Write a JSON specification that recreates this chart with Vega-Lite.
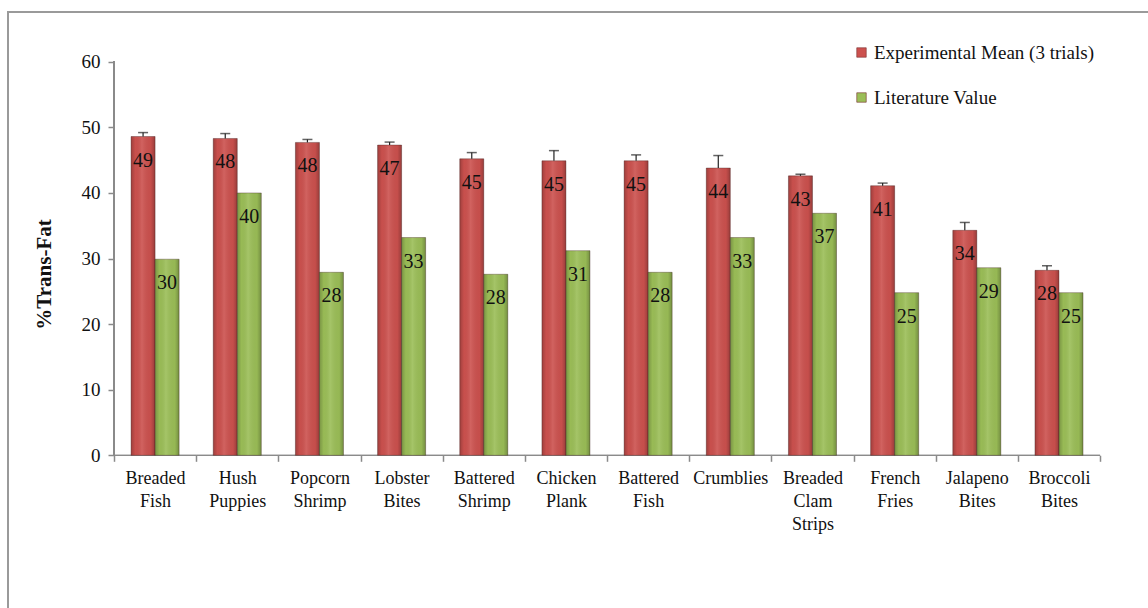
{
  "$schema": "https://vega.github.io/schema/vega-lite/v6.json",
  "width": 1145,
  "height": 600,
  "autosize": {"type": "none"},
  "padding": {"left": 8, "top": 12, "right": 0, "bottom": 0},
  "background": "white",
  "config": {
    "view": {"stroke": "#9a9a9a", "strokeWidth": 2},
    "font": "Liberation Serif, Times New Roman, DejaVu Serif, serif"
  },
  "data": {
    "values": [
      {"food": "Breaded Fish", "series": "Experimental Mean (3 trials)", "value": 48.6, "err": 0.6},
      {"food": "Breaded Fish", "series": "Literature Value", "value": 29.9},
      {"food": "Hush Puppies", "series": "Experimental Mean (3 trials)", "value": 48.3, "err": 0.75},
      {"food": "Hush Puppies", "series": "Literature Value", "value": 40.0},
      {"food": "Popcorn Shrimp", "series": "Experimental Mean (3 trials)", "value": 47.7, "err": 0.45},
      {"food": "Popcorn Shrimp", "series": "Literature Value", "value": 27.9},
      {"food": "Lobster Bites", "series": "Experimental Mean (3 trials)", "value": 47.3, "err": 0.45},
      {"food": "Lobster Bites", "series": "Literature Value", "value": 33.2},
      {"food": "Battered Shrimp", "series": "Experimental Mean (3 trials)", "value": 45.2, "err": 0.95},
      {"food": "Battered Shrimp", "series": "Literature Value", "value": 27.6},
      {"food": "Chicken Plank", "series": "Experimental Mean (3 trials)", "value": 44.9, "err": 1.55},
      {"food": "Chicken Plank", "series": "Literature Value", "value": 31.2},
      {"food": "Battered Fish", "series": "Experimental Mean (3 trials)", "value": 44.9, "err": 0.9},
      {"food": "Battered Fish", "series": "Literature Value", "value": 27.9},
      {"food": "Crumblies", "series": "Experimental Mean (3 trials)", "value": 43.8, "err": 1.9},
      {"food": "Crumblies", "series": "Literature Value", "value": 33.2},
      {"food": "Breaded Clam Strips", "series": "Experimental Mean (3 trials)", "value": 42.6, "err": 0.25},
      {"food": "Breaded Clam Strips", "series": "Literature Value", "value": 36.9},
      {"food": "French Fries", "series": "Experimental Mean (3 trials)", "value": 41.1, "err": 0.4},
      {"food": "French Fries", "series": "Literature Value", "value": 24.8},
      {"food": "Jalapeno Bites", "series": "Experimental Mean (3 trials)", "value": 34.3, "err": 1.2},
      {"food": "Jalapeno Bites", "series": "Literature Value", "value": 28.6},
      {"food": "Broccoli Bites", "series": "Experimental Mean (3 trials)", "value": 28.2, "err": 0.7},
      {"food": "Broccoli Bites", "series": "Literature Value", "value": 24.8}
    ]
  },
  "encoding": {
    "x": {
      "field": "food",
      "type": "nominal",
      "sort": null,
      "scale": {"paddingInner": 0, "paddingOuter": 0.967, "align": 0.667},
      "axis": {
        "title": null,
        "offset": -156.7,
        "domain": false,
        "labelAngle": 0,
        "labelExpr": "split(datum.label, ' ')",
        "labelFont": "Liberation Serif, Times New Roman, serif",
        "labelFontSize": 18,
        "labelLineHeight": 23,
        "labelColor": "#111111",
        "labelPadding": 8,
        "labelBaseline": "top",
        "tickBand": "extent",
        "tickSize": 6,
        "tickColor": "#8a8a8a",
        "tickWidth": 1.5
      }
    },
    "y": {
      "field": "value",
      "type": "quantitative",
      "scale": {"domain": [-23.88, 67.58], "nice": false, "zero": false},
      "axis": {
        "title": "%Trans-Fat",
        "offset": -106,
        "domain": false,
        "titleFont": "Liberation Serif, Times New Roman, serif",
        "titleFontSize": 21,
        "titleFontWeight": "bold",
        "titleColor": "#111111",
        "titleX": -70,
        "titleY": 262,
        "titleBaseline": "middle",
        "titleAlign": "center",
        "titleAngle": -90,
        "values": [0, 10, 20, 30, 40, 50, 60],
        "grid": false,
        "labelFont": "Liberation Serif, Times New Roman, serif",
        "labelFontSize": 19,
        "labelColor": "#111111",
        "labelPadding": 8,
        "tickSize": 6,
        "tickColor": "#8a8a8a",
        "tickWidth": 1.5
      }
    }
  },
  "layer": [
    {
      "mark": {"type": "bar", "stroke": "#8a8a8a", "strokeWidth": 0.75, "fill": "#8a8a8a"},
      "encoding": {
        "y": {"datum": 0},
        "y2": {"datum": 0}
      }
    },
    {
      "mark": {"type": "rule", "color": "#8a8a8a", "strokeWidth": 1.5},
      "encoding": {
        "x": {"datum": "Breaded Fish", "type": "nominal", "bandPosition": 0},
        "y": {"datum": 0},
        "y2": {"datum": 60}
      }
    },
    {
      "mark": {"type": "bar", "stroke": "rgba(60,30,30,0.35)", "strokeWidth": 1},
      "encoding": {
        "xOffset": {
          "field": "series",
          "type": "nominal",
          "scale": {"domain": ["Experimental Mean (3 trials)", "Literature Value"], "paddingInner": 0, "paddingOuter": 0.71}
        },
        "y2": {"datum": 0},
        "color": {
          "field": "series",
          "type": "nominal",
          "scale": {"domain": ["Experimental Mean (3 trials)", "Literature Value"], "range": ["#cc514e", "#9bbe57"]},
          "legend": {
            "title": null,
            "orient": "none",
            "legendX": 844,
            "legendY": 31,
            "padding": 0,
            "symbolType": "square",
            "symbolSize": 90,
            "symbolStrokeColor": "#7a3030",
            "symbolStrokeWidth": 0.6,
            "labelFont": "Liberation Serif, Times New Roman, serif",
            "labelFontSize": 19,
            "labelColor": "#111111",
            "labelOffset": 3,
            "rowPadding": 25,
            "labelLimit": 400
          }
        }
      }
    },
    {
      "mark": {
        "type": "bar",
        "fill": {
          "gradient": "linear",
          "x1": 0, "y1": 0, "x2": 1, "y2": 0,
          "stops": [
            {"offset": 0, "color": "rgba(0,0,0,0.22)"},
            {"offset": 0.18, "color": "rgba(0,0,0,0.02)"},
            {"offset": 0.45, "color": "rgba(255,255,255,0.10)"},
            {"offset": 0.82, "color": "rgba(0,0,0,0.03)"},
            {"offset": 1, "color": "rgba(0,0,0,0.25)"}
          ]
        }
      },
      "encoding": {
        "xOffset": {"field": "series", "type": "nominal"},
        "y2": {"datum": 0}
      }
    },
    {
      "transform": [{"filter": "isValid(datum.err)"}, {"calculate": "datum.value + datum.err", "as": "upper"}],
      "mark": {"type": "rule", "color": "#222222", "strokeWidth": 1.2},
      "encoding": {
        "xOffset": {"field": "series", "type": "nominal"},
        "y2": {"field": "upper"}
      }
    },
    {
      "transform": [{"filter": "isValid(datum.err)"}, {"calculate": "datum.value + datum.err", "as": "upper"}],
      "mark": {"type": "tick", "color": "#222222", "size": 10, "thickness": 1.5},
      "encoding": {
        "xOffset": {"field": "series", "type": "nominal"},
        "y": {"field": "upper", "type": "quantitative"}
      }
    },
    {
      "mark": {"type": "text", "baseline": "middle", "align": "center", "dy": 24, "fontSize": 20, "font": "Liberation Serif, Times New Roman, serif", "color": "#111111"},
      "encoding": {
        "xOffset": {"field": "series", "type": "nominal"},
        "text": {"field": "value", "type": "quantitative", "format": ".0f"}
      }
    }
  ]
}
